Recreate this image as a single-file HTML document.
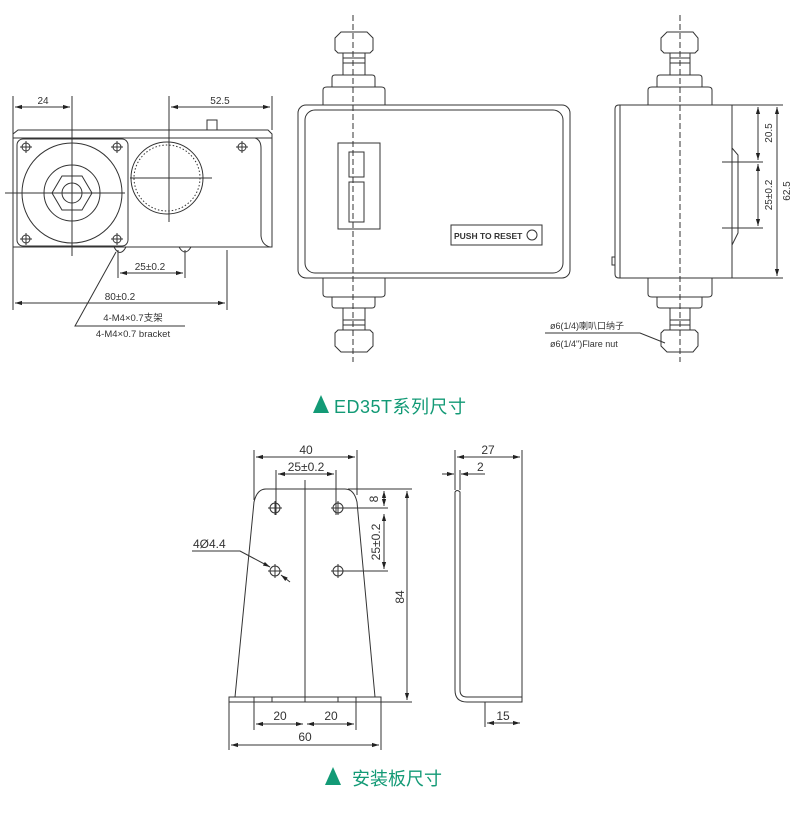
<!DOCTYPE html>
<html><head><meta charset="utf-8"><style>
body{margin:0;background:#fff;width:790px;height:822px;overflow:hidden}
svg{display:block}
text{font-family:"Liberation Sans","Noto Sans CJK SC",sans-serif;fill:#333}
</style></head><body>
<svg width="790" height="822" viewBox="0 0 790 822" xmlns="http://www.w3.org/2000/svg">
<defs>
<marker id="a" viewBox="0 0 10 10" refX="10" refY="5" markerWidth="7" markerHeight="7" orient="auto-start-reverse"><path d="M0,2 L10,5 L0,8z" fill="#222"/></marker>
</defs>
<g stroke="#333" stroke-width="1" fill="none">
<line x1="13" y1="96" x2="13" y2="310"/><line x1="72" y1="96" x2="72" y2="256"/>
<line x1="15" y1="107" x2="70" y2="107" marker-start="url(#a)" marker-end="url(#a)"/>
<line x1="169" y1="96" x2="169" y2="222"/><line x1="272" y1="96" x2="272" y2="130"/>
<line x1="171" y1="107" x2="270" y2="107" marker-start="url(#a)" marker-end="url(#a)"/>
<path d="M13,247 L13,134 L18,130 L268,130 L272,134 L272,247 Z"/>
<line x1="13" y1="138" x2="272" y2="138"/>
<rect x="207" y="120" width="10" height="10"/>
<path d="M132,138 L255,138 Q261,140 261,148 L261,236 Q262,245 270,247"/>
<rect x="17" y="139" width="111" height="107" rx="6"/>
<circle cx="72" cy="193" r="50"/>
<circle cx="72" cy="193" r="28"/>
<path d="M52,193 L62,176 L82,176 L92,193 L82,210 L62,210 Z"/>
<circle cx="72" cy="193" r="10"/>
<line x1="5" y1="193" x2="125" y2="193"/>
<g>
<circle cx="26" cy="147" r="4"/><line x1="20" y1="147" x2="32" y2="147"/><line x1="26" y1="141" x2="26" y2="153"/>
<circle cx="117" cy="147" r="4"/><line x1="111" y1="147" x2="123" y2="147"/><line x1="117" y1="141" x2="117" y2="153"/>
<circle cx="26" cy="239" r="4"/><line x1="20" y1="239" x2="32" y2="239"/><line x1="26" y1="233" x2="26" y2="245"/>
<circle cx="117" cy="239" r="4"/><line x1="111" y1="239" x2="123" y2="239"/><line x1="117" y1="233" x2="117" y2="245"/>
<circle cx="242" cy="147" r="4"/><line x1="236" y1="147" x2="248" y2="147"/><line x1="242" y1="141" x2="242" y2="153"/>
</g>
<circle cx="167" cy="178" r="36"/>
<circle cx="167" cy="178" r="33" stroke-dasharray="1.5,2"/>
<line x1="130" y1="178" x2="212" y2="178"/>
<path d="M114,247 Q120,258 126,247"/><path d="M179,247 Q185,257 191,247"/>
<line x1="118" y1="250" x2="118" y2="278"/><line x1="185" y1="250" x2="185" y2="278"/>
<line x1="120" y1="273" x2="183" y2="273" marker-start="url(#a)" marker-end="url(#a)"/>
<line x1="227" y1="250" x2="227" y2="310"/>
<line x1="15" y1="303" x2="225" y2="303" marker-start="url(#a)" marker-end="url(#a)"/>
<polyline points="116,252 75,326 185,326"/>
<line x1="353" y1="15" x2="353" y2="362" stroke-dasharray="6,3"/>
<path d="M335,38 L341,32 L367,32 L373,38 L373,50 L370,53 L338,53 L335,50 Z"/>
<path d="M343,53 L343,75 M365,53 L365,75 M343,58 L365,58 M343,63 L365,63"/>
<path d="M332,87 L332,78 Q332,75 335,75 L372,75 Q375,75 375,78 L375,87"/>
<path d="M323,105 L323,90 Q323,87 327,87 L381,87 Q385,87 385,90 L385,105"/>
<rect x="298" y="105" width="272" height="173" rx="8"/>
<rect x="305" y="110" width="258" height="163" rx="10"/>
<rect x="338" y="143" width="42" height="86"/>
<rect x="349" y="152" width="15" height="25"/>
<rect x="349" y="182" width="15" height="40"/>
<rect x="451" y="225" width="91" height="20"/>
<circle cx="532" cy="235" r="5"/>
<path d="M323,278 L323,294 Q323,297 327,297 L381,297 Q385,297 385,294 L385,278"/>
<path d="M332,297 L332,305 Q332,308 335,308 L372,308 Q375,308 375,305 L375,297"/>
<path d="M343,308 L343,330 M365,308 L365,330 M343,320 L365,320 M343,325 L365,325"/>
<path d="M335,333 L338,330 L370,330 L373,333 L373,346 L367,352 L341,352 L335,346 Z"/>
<line x1="680" y1="15" x2="680" y2="362" stroke-dasharray="6,3"/>
<path d="M661,38 L667,32 L693,32 L698,38 L698,50 L695,53 L664,53 L661,50 Z"/>
<path d="M670,53 L670,75 M690,53 L690,75 M670,58 L690,58 M670,63 L690,63"/>
<path d="M657,87 L657,78 Q657,75 660,75 L699,75 Q702,75 702,78 L702,87"/>
<path d="M648,105 L648,90 Q648,87 652,87 L708,87 Q712,87 712,90 L712,105"/>
<path d="M619,105 L732,105 L732,278 L619,278 Q615,278 615,274 L615,109 Q615,105 619,105 Z"/>
<line x1="620" y1="105" x2="620" y2="278"/>
<path d="M732,148 L738,155 L738,233 L732,245"/>
<rect x="612" y="257" width="3" height="8"/>
<path d="M648,278 L648,294 Q648,297 652,297 L708,297 Q712,297 712,294 L712,278"/>
<path d="M657,297 L657,305 Q657,308 660,308 L699,308 Q702,308 702,305 L702,297"/>
<path d="M670,308 L670,330 M690,308 L690,330 M670,320 L690,320 M670,325 L690,325"/>
<path d="M661,333 L664,330 L695,330 L698,333 L698,346 L693,352 L667,352 L661,346 Z"/>
<line x1="732" y1="105" x2="783" y2="105"/><line x1="732" y1="278" x2="783" y2="278"/>
<line x1="722" y1="162" x2="763" y2="162"/><line x1="722" y1="228" x2="763" y2="228"/>
<line x1="758" y1="107" x2="758" y2="160" marker-start="url(#a)" marker-end="url(#a)"/>
<line x1="758" y1="164" x2="758" y2="226" marker-start="url(#a)" marker-end="url(#a)"/>
<line x1="777" y1="107" x2="777" y2="276" marker-start="url(#a)" marker-end="url(#a)"/>
<polyline points="545,333 640,333 665,343"/>
<line x1="254" y1="450" x2="254" y2="500"/><line x1="357" y1="450" x2="357" y2="495"/>
<line x1="256" y1="457" x2="355" y2="457" marker-start="url(#a)" marker-end="url(#a)"/>
<line x1="276" y1="470" x2="276" y2="515"/><line x1="336" y1="470" x2="336" y2="515"/>
<line x1="278" y1="474" x2="334" y2="474" marker-start="url(#a)" marker-end="url(#a)"/>
<path d="M235,697 L254,502 Q257,489 266,489 L345,489 Q354,489 357,502 L375,697"/>
<rect x="229" y="697" width="152" height="5"/>
<path d="M254,697 V702 M272,697 V702 M338,697 V702 M356,697 V702"/>
<line x1="305" y1="480" x2="305" y2="702"/>
<g>
<circle cx="275" cy="508" r="5"/><line x1="268" y1="508" x2="282" y2="508"/><line x1="275" y1="501" x2="275" y2="515"/>
<circle cx="338" cy="508" r="5"/><line x1="331" y1="508" x2="388" y2="508"/><line x1="338" y1="501" x2="338" y2="515"/>
<circle cx="275" cy="571" r="5"/><line x1="268" y1="571" x2="282" y2="571"/><line x1="275" y1="564" x2="275" y2="578"/>
<circle cx="338" cy="571" r="5"/><line x1="331" y1="571" x2="388" y2="571"/><line x1="338" y1="564" x2="338" y2="578"/>
</g>
<line x1="348" y1="489" x2="412" y2="489"/><line x1="381" y1="702" x2="412" y2="702"/>
<line x1="384" y1="491" x2="384" y2="506" marker-start="url(#a)" marker-end="url(#a)"/>
<line x1="384" y1="514" x2="384" y2="569" marker-start="url(#a)" marker-end="url(#a)"/>
<line x1="407" y1="491" x2="407" y2="700" marker-start="url(#a)" marker-end="url(#a)"/>
<polyline points="192,551 240,551 270,567" marker-end="url(#a)"/>
<line x1="290" y1="582" x2="281" y2="575" marker-end="url(#a)"/>
<line x1="254" y1="702" x2="254" y2="730"/><line x1="356" y1="702" x2="356" y2="730"/>
<line x1="229" y1="702" x2="229" y2="750"/><line x1="381" y1="702" x2="381" y2="750"/>
<line x1="256" y1="724" x2="303" y2="724" marker-start="url(#a)" marker-end="url(#a)"/>
<line x1="307" y1="724" x2="354" y2="724" marker-start="url(#a)" marker-end="url(#a)"/>
<line x1="231" y1="745" x2="379" y2="745" marker-start="url(#a)" marker-end="url(#a)"/>
<line x1="455" y1="450" x2="455" y2="490"/><line x1="522" y1="450" x2="522" y2="702"/>
<line x1="457" y1="457" x2="520" y2="457" marker-start="url(#a)" marker-end="url(#a)"/>
<line x1="442" y1="474" x2="454" y2="474" marker-end="url(#a)"/>
<line x1="485" y1="474" x2="461" y2="474" marker-end="url(#a)"/>
<line x1="460" y1="470" x2="460" y2="490"/>
<path d="M455,492 Q457,489 460,492 L460,690 Q460,697 467,697 L522,697 L522,702 L467,702 Q455,702 455,690 Z"/>
<line x1="485" y1="702" x2="485" y2="727"/>
<line x1="487" y1="723" x2="520" y2="723" marker-start="url(#a)" marker-end="url(#a)"/>
</g>
<g font-size="10">
<text x="43" y="104" text-anchor="middle">24</text>
<text x="220" y="104" text-anchor="middle">52.5</text>
<text x="150" y="270" text-anchor="middle">25±0.2</text>
<text x="120" y="300" text-anchor="middle">80±0.2</text>
<text x="133" y="321" text-anchor="middle" font-size="9.5">4-M4×0.7支架</text>
<text x="133" y="337" text-anchor="middle" font-size="9.5">4-M4×0.7 bracket</text>
<text x="454" y="239" font-size="8.5" font-weight="bold">PUSH TO RESET</text>
<text transform="translate(772,133) rotate(-90)" text-anchor="middle">20.5</text>
<text transform="translate(772,195) rotate(-90)" text-anchor="middle">25±0.2</text>
<text transform="translate(790,191) rotate(-90)" text-anchor="middle">62.5</text>
<text x="550" y="329" font-size="9">ø6(1/4)喇叭口纳子</text>
<text x="550" y="347" font-size="9">ø6(1/4")Flare nut</text>
</g>
<g font-size="12">
<text x="306" y="454" text-anchor="middle">40</text>
<text x="306" y="471" text-anchor="middle">25±0.2</text>
<text x="193" y="548">4Ø4.4</text>
<text transform="translate(378,499) rotate(-90)" text-anchor="middle">8</text>
<text transform="translate(380,542) rotate(-90)" text-anchor="middle">25±0.2</text>
<text transform="translate(404,597) rotate(-90)" text-anchor="middle">84</text>
<text x="280" y="720" text-anchor="middle">20</text>
<text x="331" y="720" text-anchor="middle">20</text>
<text x="305" y="741" text-anchor="middle">60</text>
<text x="488" y="454" text-anchor="middle">27</text>
<text x="477" y="471">2</text>
<text x="503" y="720" text-anchor="middle">15</text>
</g>
<path d="M313,413 L321,395 L329,413 Z" fill="#139a76"/>
<text x="334" y="413" font-size="18" letter-spacing="0.5" style="fill:#139a76">ED35T系列尺寸</text>
<path d="M325,785 L333,767 L341,785 Z" fill="#139a76"/>
<text x="352" y="785" font-size="18" style="fill:#139a76">安装板尺寸</text>
</svg>
</body></html>
